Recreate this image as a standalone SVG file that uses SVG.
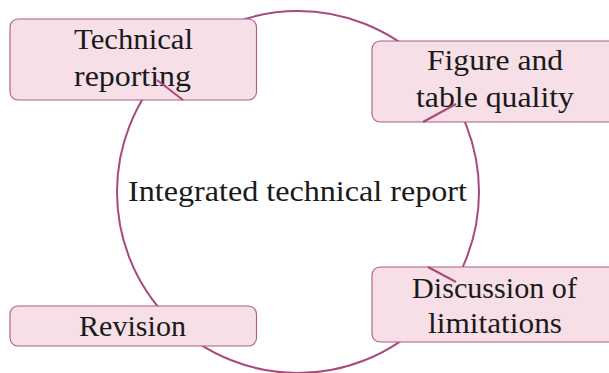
<svg xmlns="http://www.w3.org/2000/svg" width="609" height="373" viewBox="0 0 609 373">
<style>
.node{fill:#f6dfe7;stroke:#b05a88;stroke-width:1.1}
.t{font-family:'Liberation Serif','DejaVu Serif',serif;font-size:29px;fill:#1a1a1a;text-anchor:middle}
.c{fill:none;stroke:#a84a7c;stroke-width:2}
</style>
<rect width="609" height="373" fill="#ffffff"/>
<g id="connectors">
<circle class="c" cx="298" cy="192" r="181"/>
</g>
<g id="center">
<text class="t" font-family="Liberation Serif, DejaVu Serif, serif" x="297.5" y="201" textLength="339" lengthAdjust="spacingAndGlyphs">Integrated technical report</text>
</g>
<g id="technical-reporting">
<rect class="node" x="10" y="19" width="246.5" height="81" rx="8"/>
<text class="t" font-family="Liberation Serif, DejaVu Serif, serif" x="133.5" y="49" textLength="119" lengthAdjust="spacingAndGlyphs">Technical</text>
<text class="t" font-family="Liberation Serif, DejaVu Serif, serif" x="132.5" y="86" textLength="117" lengthAdjust="spacingAndGlyphs">reporting</text>
</g>
<g id="figure-table-quality">
<rect class="node" x="372" y="41" width="246.5" height="81" rx="8"/>
<text class="t" font-family="Liberation Serif, DejaVu Serif, serif" x="495" y="70" textLength="136" lengthAdjust="spacingAndGlyphs">Figure and</text>
<text class="t" font-family="Liberation Serif, DejaVu Serif, serif" x="495" y="107" textLength="158" lengthAdjust="spacingAndGlyphs">table quality</text>
</g>
<g id="discussion-limitations">
<rect class="node" x="372" y="267" width="246.5" height="75" rx="8"/>
<text class="t" font-family="Liberation Serif, DejaVu Serif, serif" x="494.5" y="298" textLength="165" lengthAdjust="spacingAndGlyphs">Discussion of</text>
<text class="t" font-family="Liberation Serif, DejaVu Serif, serif" x="495" y="333" textLength="134" lengthAdjust="spacingAndGlyphs">limitations</text>
</g>
<g id="revision">
<rect class="node" x="10" y="306" width="246.5" height="40" rx="8"/>
<text class="t" font-family="Liberation Serif, DejaVu Serif, serif" x="132.5" y="336" textLength="107" lengthAdjust="spacingAndGlyphs">Revision</text>
</g>
<g id="arrow-stubs" class="c">
<line x1="157" y1="80" x2="183" y2="100"/>
<line x1="423" y1="122" x2="456" y2="104"/>
<line x1="428" y1="267" x2="456" y2="282"/>
</g>
</svg>
